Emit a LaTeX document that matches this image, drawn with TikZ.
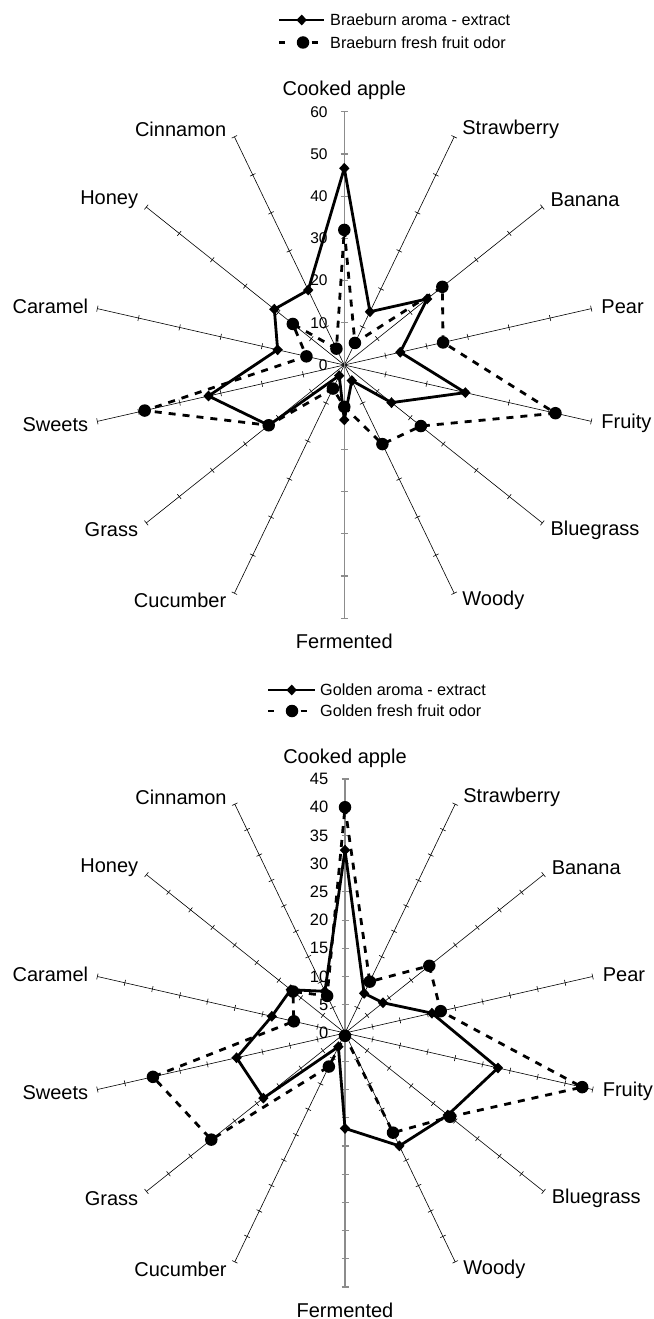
\documentclass[tikz,border=0pt]{standalone}
\usepackage{fontspec}
\setmainfont{Liberation Sans}
\usetikzlibrary{shapes.geometric,calc}
\tikzset{
  spoke/.style={line width=0.6pt, black},
  vaxis/.style={line width=1.6pt, black!45},
  vtick/.style={line width=1.2pt, black!45},
  sser/.style={line width=2.8pt, black, line join=round},
  dser/.style={line width=2.8pt, black, dash pattern=on 7pt off 7pt},
  dmark/.style={diamond, fill=black, draw=none, inner sep=0pt, minimum width=10.5pt, minimum height=11pt},
  cmark/.style={circle, fill=black, draw=none, inner sep=0pt, minimum size=12.5pt},
  clab/.style={inner sep=0pt, font=\fontsize{20}{24}\selectfont},
  vlab/.style={inner sep=0pt, anchor=east},
  leg/.style={inner sep=0pt, anchor=west, font=\fontsize{16.2}{19}\selectfont},
}
% #1 prefix, #2 cx, #3 cy, #4 R, #5 ticks, #6 max, #7 solid, #8 dashed, #9 value font size
\newcommand\myradar[9]{%
\begin{scope}[shift={(#2,#3)}]
\coordinate (#1c) at (0,0);
\foreach \k in {0,...,13}{%
  \pgfmathsetmacro\a{90-\k*360/14}%
  \coordinate (#1e\k) at ({#4*cos(\a)},{-#4*sin(\a)});
}
\foreach \k in {1,2,3,4,5,6,8,9,10,11,12,13}{%
  \pgfmathsetmacro\a{90-\k*360/14}%
  \draw[spoke] (#1c) -- (#1e\k);
  \foreach \j in {1,...,#5}{%
    \pgfmathsetmacro\rr{\j*#4/#5}%
    \draw[spoke] ({\rr*cos(\a)+3*sin(\a)},{-\rr*sin(\a)+3*cos(\a)}) -- ({\rr*cos(\a)-3*sin(\a)},{-\rr*sin(\a)-3*cos(\a)});
  }
}
\draw[vaxis] (#1e0) -- (#1e7);
\foreach \j in {1,...,#5}{%
  \pgfmathsetmacro\rr{\j*#4/#5}%
  \draw[vtick] (-3.5,\rr) -- (3.5,\rr);
  \draw[vtick] (-3.5,-\rr) -- (3.5,-\rr);
}
\foreach \j in {0,...,#5}{%
  \pgfmathsetmacro\lv{int(round(\j*#6/#5))}%
  \node[vlab, font=\fontsize{#9}{#9}\selectfont] (#1v\j) at (-16.5,{-\j*#4/#5}) {\lv};
}
\foreach \v [count=\k from 0] in {#7}{%
  \pgfmathsetmacro\a{90-\k*360/14}%
  \pgfmathsetmacro\rr{\v*#4/#6}%
  \coordinate (#1s\k) at ({\rr*cos(\a)},{-\rr*sin(\a)});
}
\foreach \v [count=\k from 0] in {#8}{%
  \pgfmathsetmacro\a{90-\k*360/14}%
  \pgfmathsetmacro\rr{\v*#4/#6}%
  \coordinate (#1d\k) at ({\rr*cos(\a)},{-\rr*sin(\a)});
}
\draw[sser] (#1s0) \foreach \k in {1,...,13}{ -- (#1s\k)} -- cycle;
\foreach \k in {0,...,13}{\node[dmark] (#1S\k) at (#1s\k) {};}
\draw[dser] (#1d0) \foreach \k in {1,...,13}{ -- (#1d\k)} -- cycle;
\foreach \k in {0,...,13}{\node[cmark] (#1D\k) at (#1d\k) {};}
\node[clab, anchor=base] (#1L0) at ($(#1e0)+(0,-16)$) {Cooked apple};
\node[clab, anchor=west] (#1L1) at ($(#1e1)+(8,-7)$) {Strawberry};
\node[clab, anchor=west] (#1L2) at ($(#1e2)+(8,-7)$) {Banana};
\node[clab, anchor=west] (#1L3) at ($(#1e3)+(10,-2)$) {Pear};
\node[clab, anchor=west] (#1L4) at ($(#1e4)+(10,2)$) {Fruity};
\node[clab, anchor=west] (#1L5) at ($(#1e5)+(8,7)$) {Bluegrass};
\node[clab, anchor=west] (#1L6) at ($(#1e6)+(8,7)$) {Woody};
\node[clab, anchor=base] (#1L7) at ($(#1e7)+(0,30)$) {Fermented};
\node[clab, anchor=east] (#1L8) at ($(#1e8)+(-8,7)$) {Cucumber};
\node[clab, anchor=east] (#1L9) at ($(#1e9)+(-8,7)$) {Grass};
\node[clab, anchor=east] (#1L10) at ($(#1e10)+(-9,3)$) {Sweets};
\node[clab, anchor=east] (#1L11) at ($(#1e11)+(-9,-2)$) {Caramel};
\node[clab, anchor=east] (#1L12) at ($(#1e12)+(-8,-7)$) {Honey};
\node[clab, anchor=east] (#1L13) at ($(#1e13)+(-8,-7)$) {Cinnamon};
\end{scope}}
\begin{document}
\begin{tikzpicture}[x=1pt,y=-1pt]
\fill[white] (0,0) rectangle (653,1319);
\useasboundingbox (0,0) rectangle (653,1319);
% legend 1
\coordinate (la1) at (279.3,20); \coordinate (lb1) at (324,20);
\draw[sser] (la1) -- (lb1);
\node[dmark] (lm1) at (301.7,20) {};
\node[leg] (lt1) at (330,20) {Braeburn aroma - extract};
\coordinate (la2) at (279.3,42.5); \coordinate (lb2) at (285.3,42.5);
\coordinate (lc2) at (311.7,42.5); \coordinate (ld2) at (318.3,42.5);
\draw[line width=2.8pt] (la2) -- (lb2);
\draw[line width=2.8pt] (lc2) -- (ld2);
\node[cmark] (lm2) at (303,42.5) {};
\node[leg] (lt2) at (330,42.5) {Braeburn fresh fruit odor};
% legend 2
\coordinate (la3) at (268.3,690); \coordinate (lb3) at (315,690);
\draw[sser] (la3) -- (lb3);
\node[dmark] (lm3) at (291.7,690) {};
\node[leg] (lt3) at (320,690) {Golden aroma - extract};
\coordinate (la4) at (268.3,711); \coordinate (lb4) at (274.3,711);
\coordinate (lc4) at (300.7,711); \coordinate (ld4) at (307.3,711);
\draw[line width=2.8pt] (la4) -- (lb4);
\draw[line width=2.8pt] (lc4) -- (ld4);
\node[cmark] (lm4) at (292,711) {};
\node[leg] (lt4) at (320,711) {Golden fresh fruit odor};
% charts
\myradar{A}{344.3}{365}{253.3}{6}{60}{46.6,14.0,25.1,13.6,29.4,14.3,4.1,13.0,2.8,22.9,33.0,16.2,21.2,19.7}{32.0,5.8,29.7,24.0,51.3,23.2,20.8,9.9,6.2,22.9,48.5,9.2,15.6,4.3}{15.5}
\myradar{B}{345}{1033}{254}{9}{45}{32.4,7.8,8.6,15.8,27.8,23.3,22.2,16.9,2.7,18.5,19.7,13.3,12.3,8.2}{40.0,10.1,19.1,17.4,43.1,23.8,19.6,0.5,6.6,30.3,34.9,9.3,11.8,7.3}{16.5}
\end{tikzpicture}
\end{document}
